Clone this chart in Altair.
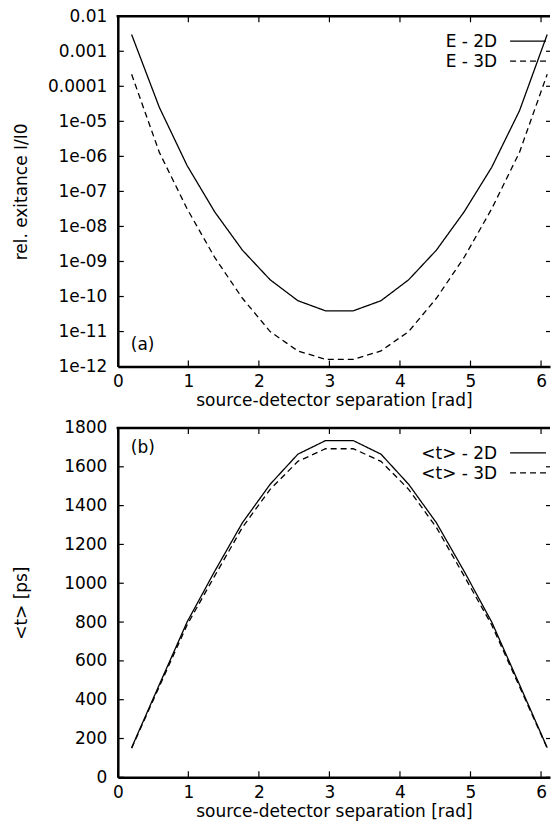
import altair as alt
import pandas as pd

# ---------------- data ----------------
sep = [0.196, 0.589, 0.982, 1.374, 1.767, 2.160, 2.553, 2.945,
       3.338, 3.731, 4.123, 4.516, 4.909, 5.301, 5.694, 6.087]

e_2d = [3.0e-3, 2.5e-5, 5.5e-7, 2.6e-8, 2.1e-9, 3.0e-10, 7.6e-11, 3.9e-11,
        3.9e-11, 7.6e-11, 3.0e-10, 2.1e-9, 2.6e-8, 4.9e-7, 2.0e-5, 3.0e-3]
e_3d = [2.2e-4, 1.3e-6, 3.2e-8, 1.3e-9, 8.9e-11, 1.0e-11, 2.8e-12, 1.6e-12,
        1.6e-12, 2.8e-12, 1.0e-11, 8.9e-11, 1.3e-9, 3.2e-8, 1.3e-6, 2.2e-4]

t_2d = [153, 478, 800, 1062, 1312, 1510, 1665, 1735,
        1735, 1665, 1510, 1312, 1062, 800, 478, 153]
t_3d = [150, 468, 785, 1038, 1288, 1484, 1628, 1693,
        1693, 1628, 1484, 1288, 1038, 785, 468, 150]

x_ticks = [0, 1, 2, 3, 4, 5, 6]
y_ticks_a = [1e-12, 1e-11, 1e-10, 1e-9, 1e-8, 1e-7, 1e-6, 1e-5, 1e-4, 1e-3, 1e-2]
y_labels_a = ["1e-12", "1e-11", "1e-10", "1e-09", "1e-08", "1e-07",
              "1e-06", "1e-05", "0.0001", "0.001", "0.01"]
y_ticks_b = [0, 200, 400, 600, 800, 1000, 1200, 1400, 1600, 1800]

series = ["2D", "3D"]
legend_a = ["E - 2D", "E - 3D"]
legend_b = ["<t> - 2D", "<t> - 3D"]
x_title = "source-detector separation [rad]"

# ---------------- layout constants ----------------
W = 433
H1 = 351
H2 = 350
FONT = "DejaVu Sans"
FS = 17
X_MAX = 6.127   # visible part of the axis (the right border is cut off in the original)


def long_df(a, b):
    return pd.DataFrame({
        "x": sep + sep,
        "v": a + b,
        "series": [series[0]] * len(sep) + [series[1]] * len(sep),
    })


def panel(df, yscale, yticks, ytitle, label_expr, legend_labels, tag, tag_y, H):
    xscale = alt.Scale(domain=[0, X_MAX], nice=False, zero=False)
    xaxis = alt.Axis(values=x_ticks, title=x_title, ticks=False, tickSize=0,
                     labelPadding=7, titlePadding=3, grid=False,
                     labelFlush=False, labelOverlap=False)
    yaxis_kw = dict(values=yticks, title=ytitle, ticks=False, tickSize=0,
                    labelPadding=11, titlePadding=15, grid=False,
                    labelFlush=False, labelOverlap=False,
                    minExtent=72, maxExtent=72)
    if label_expr:
        yaxis_kw["labelExpr"] = label_expr
    else:
        yaxis_kw["format"] = "d"
    yaxis = alt.Axis(**yaxis_kw)

    lines = alt.Chart(df).mark_line(color="black", strokeWidth=1.3, clip=True).encode(
        x=alt.X("x:Q", scale=xscale, axis=xaxis),
        y=alt.Y("v:Q", scale=yscale, axis=yaxis),
        strokeDash=alt.StrokeDash("series:N",
                                  scale=alt.Scale(domain=series, range=[[1, 0], [6, 4]]),
                                  legend=None),
        detail="series:N",
    )

    ydf = pd.DataFrame({"t": yticks})
    xdf = pd.DataFrame({"t": x_ticks})
    one = pd.DataFrame({"a": [0]})

    ytick_l = alt.Chart(ydf).mark_rule(color="black", strokeWidth=1.2).encode(
        y=alt.Y("t:Q", scale=yscale, axis=yaxis), x=alt.value(0), x2=alt.value(6))
    ytick_r = alt.Chart(ydf).mark_rule(color="black", strokeWidth=1.2).encode(
        y=alt.Y("t:Q", scale=yscale, axis=yaxis), x=alt.value(W - 4), x2=alt.value(W))
    xtick_b = alt.Chart(xdf).mark_rule(color="black", strokeWidth=1.2).encode(
        x=alt.X("t:Q", scale=xscale, axis=xaxis), y=alt.value(H), y2=alt.value(H - 6))
    xtick_t = alt.Chart(xdf).mark_rule(color="black", strokeWidth=1.2).encode(
        x=alt.X("t:Q", scale=xscale, axis=xaxis), y=alt.value(0), y2=alt.value(6))
    top_border = alt.Chart(one).mark_rule(color="black", strokeWidth=2.5).encode(
        x=alt.value(-1.25), x2=alt.value(W), y=alt.value(0))

    leg = []
    rows_y = [25, 45]
    dashes = [[1, 0], [6, 4]]
    for lab, ry, dsh in zip(legend_labels, rows_y, dashes):
        leg.append(alt.Chart(one).mark_text(align="right", baseline="middle",
                                            font=FONT, fontSize=FS, color="black").encode(
            x=alt.value(380), y=alt.value(ry + 1), text=alt.value(lab)))
        leg.append(alt.Chart(one).mark_rule(color="black", strokeWidth=1.3,
                                            strokeDash=dsh).encode(
            x=alt.value(393), x2=alt.value(429), y=alt.value(ry)))

    tag_mark = alt.Chart(one).mark_text(align="left", baseline="middle",
                                        font=FONT, fontSize=FS, color="black").encode(
        x=alt.value(13), y=alt.value(tag_y), text=alt.value(tag))

    return alt.layer(lines, ytick_l, ytick_r, xtick_b, xtick_t, top_border,
                     *leg, tag_mark).properties(width=W, height=H)


expr_a = "[" + ",".join("'" + s + "'" for s in y_labels_a) + "][round(log(datum.value)/LN10)+12]"

top = panel(long_df(e_2d, e_3d),
            alt.Scale(type="log", domain=[1e-12, 1e-2], nice=False),
            y_ticks_a, "rel. exitance I/I0", expr_a, legend_a, "(a)", H1 - 22, H1)
bottom = panel(long_df(t_2d, t_3d),
               alt.Scale(domain=[0, 1800], nice=False, zero=True),
               y_ticks_b, "<t> [ps]", None, legend_b, "(b)", 20, H2)

chart = alt.vconcat(top, bottom, spacing=10.5).properties(
    padding={"left": 5, "top": -1.5, "right": 0, "bottom": 0}
).configure_view(stroke=None).configure_axis(
    labelFont=FONT, titleFont=FONT, labelFontSize=FS, titleFontSize=FS,
    titleFontWeight="normal", labelColor="black", titleColor="black",
    domainColor="black", domainWidth=2.5,
)

chart.save("out.html", embed_options={"renderer": "svg", "actions": False})
